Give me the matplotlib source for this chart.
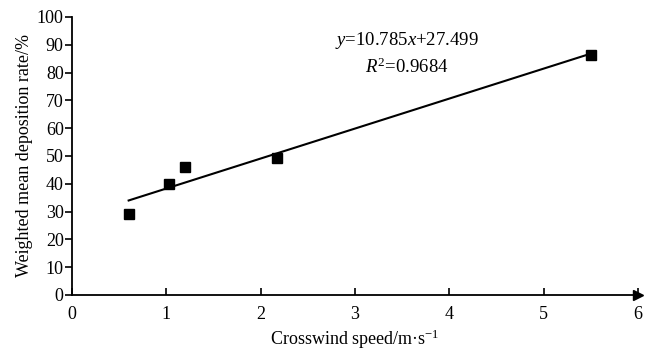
import numpy as np
import matplotlib
matplotlib.use("Agg")
import matplotlib.pyplot as plt

plt.rcParams['font.family'] = ['Liberation Serif', 'DejaVu Serif']
plt.rcParams['mathtext.fontset'] = 'custom'
plt.rcParams['mathtext.rm'] = 'Liberation Serif'
plt.rcParams['mathtext.it'] = 'Liberation Serif:italic'

# measured points
speed = [0.6, 1.03, 1.2, 2.17, 5.5]
rate = [29, 40, 46, 49.3, 86.3]

# fit reported on the chart
slope = 10.785
intercept = 27.499

fig = plt.figure(figsize=(6.55, 3.54), dpi=100)
ax = fig.add_axes([0.11, 0.167, 0.864, 0.785])

xf = np.array([min(speed), max(speed)])
ax.plot(xf, slope * xf + intercept, color='black', lw=1.5, zorder=2)
ax.plot(speed, rate, 's', color='black', markersize=7, zorder=3)

ax.set_xlim(0, 6)
ax.set_ylim(0, 100)
ax.set_xticks(range(0, 7))
ax.set_yticks(range(0, 101, 10))
ax.spines['top'].set_visible(False)
ax.spines['right'].set_visible(False)
ax.spines['left'].set_linewidth(1.3)
ax.spines['bottom'].set_linewidth(1.3)
ax.tick_params(axis='y', direction='out', length=5, width=1.2, labelsize=13, pad=1)
ax.tick_params(axis='x', direction='in', length=5, width=1.2, labelsize=13, pad=8)
# arrow head at end of x axis
ax.plot(1, 0, '>', color='black', markersize=7, transform=ax.transAxes, clip_on=False)

ax.text(3.55, 91.5, r'$y$=10.785$x$+27.499', fontsize=13.5, ha='center', va='center')
ax.text(3.55, 82, r'$R^2$=0.9684', fontsize=13.5, ha='center', va='center')

ax.set_xlabel('Crosswind speed/m·s$^{-1}$', fontsize=13, labelpad=3)
ax.set_ylabel('Weighted mean deposition rate/%', fontsize=13, labelpad=3)

fig.savefig('out.png', dpi=100)
